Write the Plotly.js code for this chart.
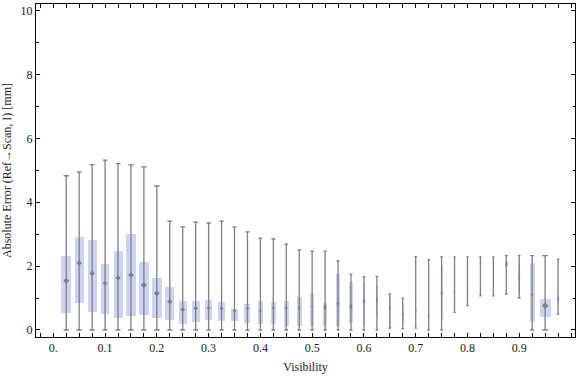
<!DOCTYPE html>
<html>
<head>
<meta charset="utf-8">
<script src="https://cdn.plot.ly/plotly-3.0.1.min.js"></script>
<style>
  html, body { margin: 0; padding: 0; background: #ffffff; }
  #chart { width: 576px; height: 377px; }
</style>
</head>
<body>
<div id="chart"></div>
<script>
// Visibility bin centres
const visibility = [0.025, 0.05, 0.075, 0.1, 0.125, 0.15, 0.175, 0.2, 0.225, 0.25,
  0.275, 0.3, 0.325, 0.35, 0.375, 0.4, 0.425, 0.45, 0.475, 0.5,
  0.525, 0.55, 0.575, 0.6, 0.625, 0.65, 0.675, 0.7, 0.725, 0.75,
  0.775, 0.8, 0.825, 0.85, 0.875, 0.9, 0.925, 0.95, 0.975];
// Whisker ends
const upperWhisker = [4.83, 4.95, 5.18, 5.32, 5.21, 5.17, 5.11, 4.51, 3.41, 3.23,
  3.38, 3.35, 3.41, 3.23, 3.07, 2.88, 2.85, 2.69, 2.51, 2.47,
  2.47, 2.16, 1.75, 1.66, 1.68, 1.13, 1.00, 2.30, 2.20, 2.29,
  2.29, 2.29, 2.29, 2.29, 2.33, 2.33, 2.33, 2.33, 2.22];
const lowerWhisker = [0, 0, 0, 0, 0, 0, 0, 0, 0, 0,
  0, 0, 0, 0, 0, 0, 0, 0, 0, 0,
  0, 0, 0, 0, 0, 0.06, 0.04, 0.06, 0, 0,
  0.55, 0.76, 1.07, 1.07, 1.12, 1.01, 0, 0, 0.49];
// Box (quartiles)
const q3 = [2.33, 2.92, 2.83, 2.08, 2.48, 3.02, 2.14, 1.64, 1.36, 0.92,
  0.92, 0.95, 0.89, 0.67, 0.82, 0.92, 0.89, 0.92, 1.04, 1.16,
  0.85, 1.75, 1.50, 1.50, 1.39, 1.04, 0.75, 1.00, 0.80, 1.99,
  1.46, 1.48, 2.20, 2.22, 2.17, 2.07, 2.09, 0.98, 1.11];
const q1 = [0.52, 0.83, 0.55, 0.49, 0.36, 0.43, 0.46, 0.39, 0.30, 0.18,
  0.24, 0.30, 0.27, 0.27, 0.21, 0.18, 0.18, 0.14, 0.14, 0.11,
  0.11, 0.14, 0.21, 0.14, 0.42, 0.06, 0.22, 0.42, 0.07, 0.33,
  0.86, 1.00, 1.96, 2.10, 1.96, 1.15, 0.24, 0.40, 0.81];
// Central marker (diamond)
const centre = [1.54, 2.10, 1.77, 1.46, 1.63, 1.72, 1.41, 1.15, 0.89, 0.64,
  0.68, 0.69, 0.67, 0.60, 0.67, 0.61, 0.68, 0.68, 0.68, 0.73,
  0.71, 0.83, 0.74, 0.90, 0.95, 0.69, 0.48, 0.60, 0.43, 1.16,
  1.20, 1.20, 2.08, 2.16, 2.07, 1.66, 1.11, 0.76, 0.97];
// Relative box width (sample weight), 1 = widest box
const boxWeight = [0.91, 0.85, 0.82, 0.73, 0.82, 0.91, 0.91, 0.91, 0.82, 0.73,
  0.73, 0.64, 0.59, 0.55, 0.55, 0.48, 0.48, 0.48, 0.48, 0.41,
  0.35, 0.30, 0.30, 0.23, 0.20, 0.18, 0.18, 0.14, 0.14, 0.18,
  0.09, 0.07, 0.09, 0.09, 0.23, 0.18, 0.45, 1.00, 0.15];

const xTickVals = [0, 0.1, 0.2, 0.3, 0.4, 0.5, 0.6, 0.7, 0.8, 0.9];
const xTickText = ['0.', '0.1', '0.2', '0.3', '0.4', '0.5', '0.6', '0.7', '0.8', '0.9'];
const yTickVals = [0, 2, 4, 6, 8, 10];

// ---- styling ----
const FONT = 'Liberation Serif, Times New Roman, serif';
const BOX_COLOR = '#CCD4F5';
const GRAY = '#7f7f7f';
const MAX_BOX_WIDTH = 0.0212;   // data units of the widest box
const MAX_BOX_PX = 11;
const XRANGE = [-0.0334, 1.0077];
const YRANGE = [-0.22, 10.21];

const traces = [];
// whiskers (drawn first, below the boxes)
visibility.forEach((v, i) => {
  const px = boxWeight[i] * MAX_BOX_PX;
  traces.push({
    type: 'scatter', mode: 'markers', x: [v], y: [centre[i]],
    marker: { size: 1, opacity: 0 },
    error_y: {
      type: 'data', symmetric: false,
      array: [upperWhisker[i] - centre[i]],
      arrayminus: [centre[i] - lowerWhisker[i]],
      color: GRAY, thickness: 1.3, width: 1 + 0.165 * px
    },
    hoverinfo: 'skip', showlegend: false, xaxis: 'x', yaxis: 'y'
  });
});
// boxes
traces.push({
  type: 'bar', x: visibility,
  base: q1, y: q3.map((t, i) => t - q1[i]),
  width: boxWeight.map(w => w * MAX_BOX_WIDTH),
  marker: { color: BOX_COLOR, line: { width: 0 } },
  hoverinfo: 'skip', showlegend: false, xaxis: 'x', yaxis: 'y'
});
// diamonds on an overlay subplot so they sit above the boxes
traces.push({
  type: 'scatter', mode: 'markers', x: visibility, y: centre,
  marker: {
    symbol: boxWeight.map(w => w * MAX_BOX_PX >= 4 ? 'diamond' : 'diamond-tall'),
    size: boxWeight.map(w => { const px = w * MAX_BOX_PX; return px >= 4 ? 0.45 * px : 2 + 0.6 * px; }),
    color: GRAY,
    opacity: boxWeight.map(w => Math.min(1, 0.35 + w * MAX_BOX_PX / 4)),
    line: { width: 0 }
  },
  hoverinfo: 'skip', showlegend: false, xaxis: 'x2', yaxis: 'y2'
});

const tickFont = { family: FONT, size: 12, color: '#222' };
const layout = {
  width: 576, height: 377,
  margin: { l: 36, r: 1, t: 4, b: 40 },
  paper_bgcolor: '#ffffff', plot_bgcolor: '#ffffff',
  showlegend: false, bargap: 0,
  xaxis: {
    range: XRANGE, showgrid: false, zeroline: false,
    showline: true, linecolor: '#000', linewidth: 1, mirror: 'ticks',
    ticks: 'inside', ticklen: 4, tickcolor: '#000', tickwidth: 1,
    tickmode: 'array', tickvals: xTickVals, ticktext: xTickText,
    tickfont: tickFont,
    minor: { tick0: 0, dtick: 0.025, ticks: 'inside', ticklen: 4, tickcolor: '#000', tickwidth: 1, showgrid: false },
    title: { text: 'Visibility', font: { family: FONT, size: 12, color: '#222' }, standoff: 8 }
  },
  yaxis: {
    range: YRANGE, showgrid: false, zeroline: false,
    showline: true, linecolor: '#000', linewidth: 1, mirror: 'ticks',
    ticks: 'inside', ticklen: 4, tickcolor: '#000', tickwidth: 1,
    tickmode: 'array', tickvals: yTickVals,
    tickfont: tickFont,
    minor: { tick0: 0, dtick: 1, ticks: 'inside', ticklen: 2.5, tickcolor: '#000', tickwidth: 1, showgrid: false },
    title: { text: 'Absolute Error (Ref→Scan, I) [mm]', font: { family: FONT, size: 12, color: '#222' }, standoff: 6 }
  },
  xaxis2: { overlaying: 'x', anchor: 'y2', range: XRANGE, visible: false },
  yaxis2: { overlaying: 'y', anchor: 'x2', range: YRANGE, visible: false }
};

Plotly.newPlot('chart', traces, layout, { displayModeBar: false, staticPlot: true });
</script>
</body>
</html>
